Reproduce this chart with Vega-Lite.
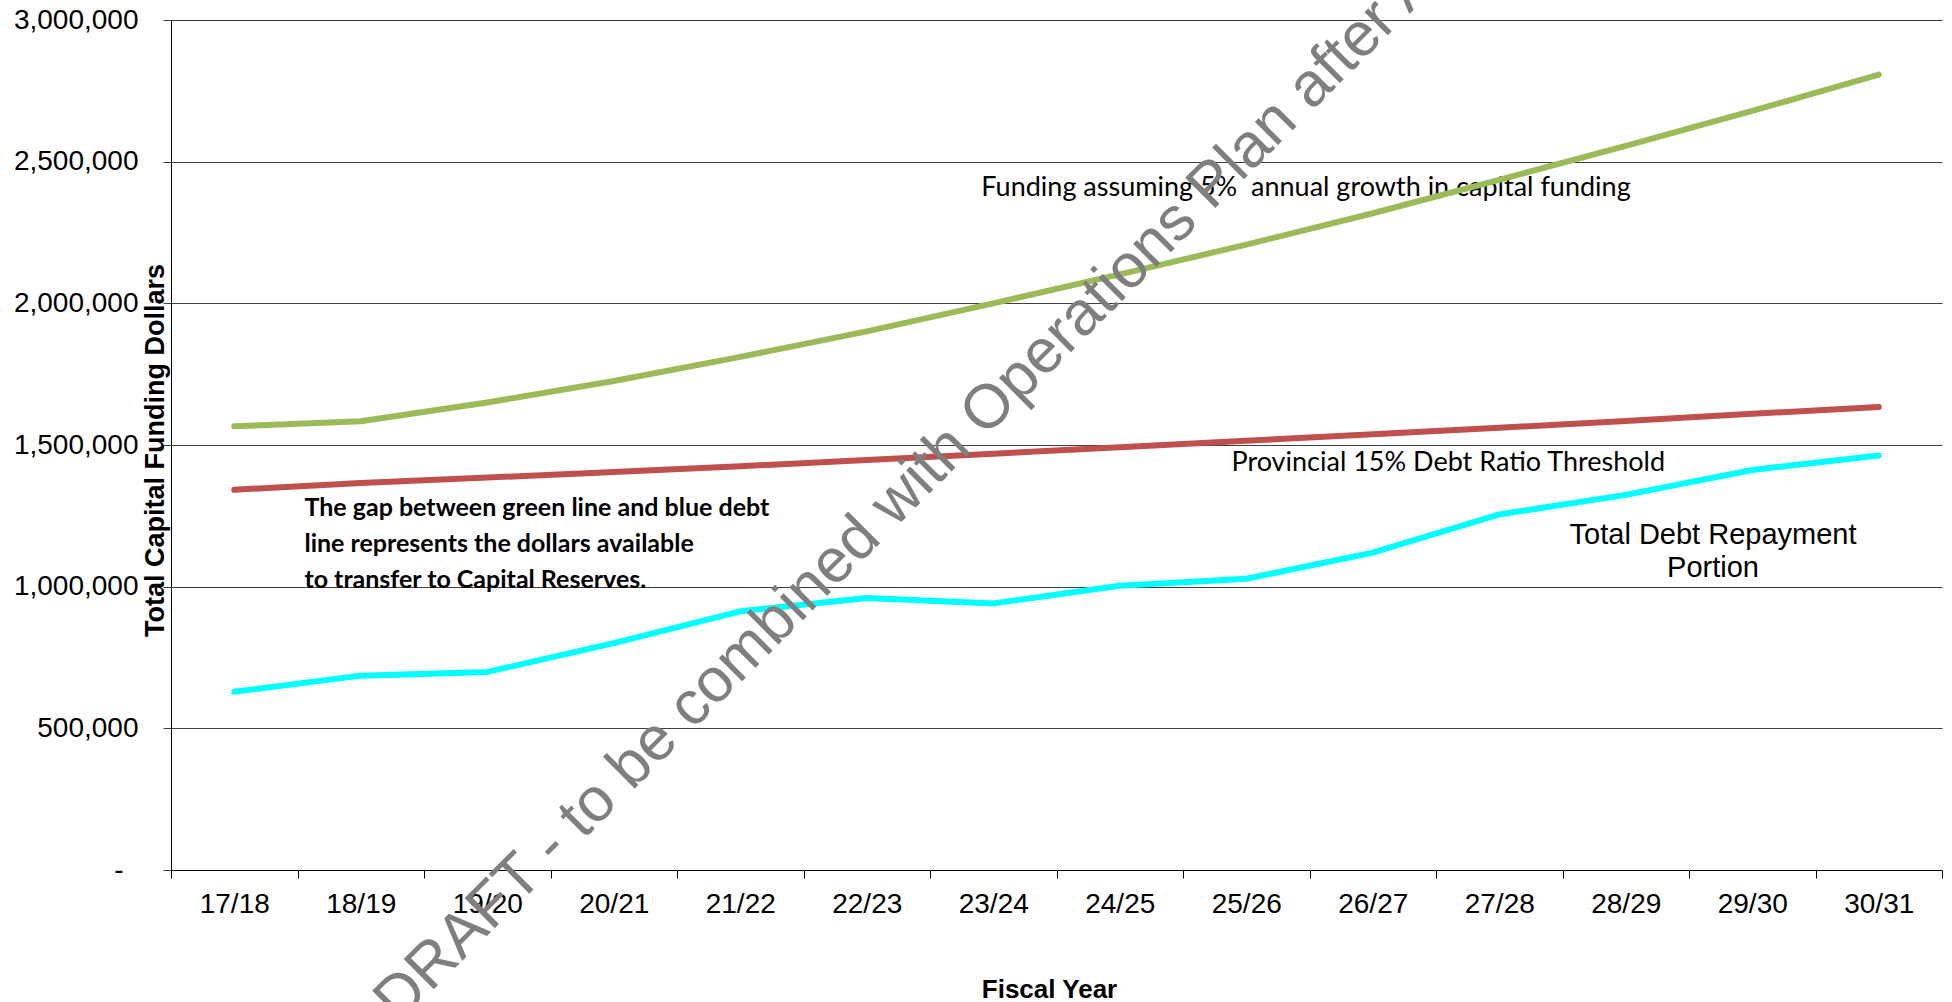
{
  "$schema": "https://vega.github.io/schema/vega-lite/v6.json",
  "autosize": {"type": "none"},
  "padding": {"left": 171, "top": 20, "right": 10, "bottom": 132},
  "width": 1771,
  "height": 850,
  "background": "white",
  "config": {
    "view": {"stroke": null},
    "font": "Liberation Sans",
    "axisX": {
      "tickBand": "extent",
      "grid": false,
      "domain": true,
      "domainColor": "#000000",
      "domainWidth": 1,
      "tickColor": "#000000",
      "tickSize": 8,
      "labelFont": "Liberation Sans",
      "labelFontSize": 28,
      "labelColor": "#000000",
      "labelPadding": 12,
      "labelAngle": 0,
      "titleFont": "Liberation Sans",
      "titleFontSize": 26,
      "titleFontWeight": "bold",
      "titleColor": "#000000",
      "titleY": 127,
      "titleX": 878,
      "titleBaseline": "alphabetic",
      "titleAlign": "center"
    },
    "axisY": {
      "grid": true,
      "gridColor": "#404040",
      "gridWidth": 1,
      "domain": true,
      "domainColor": "#000000",
      "domainWidth": 1,
      "tickColor": "#404040",
      "tickSize": 8,
      "labelFont": "Liberation Sans",
      "labelFontSize": 28,
      "labelColor": "#000000",
      "titleFont": "Liberation Sans",
      "titleFontSize": 27,
      "titleFontWeight": "bold",
      "titleColor": "#000000",
      "titleAngle": 270,
      "titleX": -8,
      "titleY": 430,
      "titleBaseline": "alphabetic",
      "titleAlign": "center"
    }
  },
  "datasets": {
    "series": [
      {"year": "17/18", "series": "Funding assuming 5% annual growth", "value": 1566000},
      {"year": "18/19", "series": "Funding assuming 5% annual growth", "value": 1584000},
      {"year": "19/20", "series": "Funding assuming 5% annual growth", "value": 1650000},
      {"year": "20/21", "series": "Funding assuming 5% annual growth", "value": 1726000},
      {"year": "21/22", "series": "Funding assuming 5% annual growth", "value": 1811000},
      {"year": "22/23", "series": "Funding assuming 5% annual growth", "value": 1901000},
      {"year": "23/24", "series": "Funding assuming 5% annual growth", "value": 2000000},
      {"year": "24/25", "series": "Funding assuming 5% annual growth", "value": 2102000},
      {"year": "25/26", "series": "Funding assuming 5% annual growth", "value": 2207000},
      {"year": "26/27", "series": "Funding assuming 5% annual growth", "value": 2318000},
      {"year": "27/28", "series": "Funding assuming 5% annual growth", "value": 2436000},
      {"year": "28/29", "series": "Funding assuming 5% annual growth", "value": 2556000},
      {"year": "29/30", "series": "Funding assuming 5% annual growth", "value": 2679000},
      {"year": "30/31", "series": "Funding assuming 5% annual growth", "value": 2807000},
      {"year": "17/18", "series": "Provincial 15% Debt Ratio Threshold", "value": 1342000},
      {"year": "18/19", "series": "Provincial 15% Debt Ratio Threshold", "value": 1366000},
      {"year": "19/20", "series": "Provincial 15% Debt Ratio Threshold", "value": 1385000},
      {"year": "20/21", "series": "Provincial 15% Debt Ratio Threshold", "value": 1405000},
      {"year": "21/22", "series": "Provincial 15% Debt Ratio Threshold", "value": 1425000},
      {"year": "22/23", "series": "Provincial 15% Debt Ratio Threshold", "value": 1447000},
      {"year": "23/24", "series": "Provincial 15% Debt Ratio Threshold", "value": 1469000},
      {"year": "24/25", "series": "Provincial 15% Debt Ratio Threshold", "value": 1492000},
      {"year": "25/26", "series": "Provincial 15% Debt Ratio Threshold", "value": 1515000},
      {"year": "26/27", "series": "Provincial 15% Debt Ratio Threshold", "value": 1538000},
      {"year": "27/28", "series": "Provincial 15% Debt Ratio Threshold", "value": 1561000},
      {"year": "28/29", "series": "Provincial 15% Debt Ratio Threshold", "value": 1585000},
      {"year": "29/30", "series": "Provincial 15% Debt Ratio Threshold", "value": 1610000},
      {"year": "30/31", "series": "Provincial 15% Debt Ratio Threshold", "value": 1634000},
      {"year": "17/18", "series": "Total Debt Repayment Portion", "value": 629000},
      {"year": "18/19", "series": "Total Debt Repayment Portion", "value": 686000},
      {"year": "19/20", "series": "Total Debt Repayment Portion", "value": 699000},
      {"year": "20/21", "series": "Total Debt Repayment Portion", "value": 801000},
      {"year": "21/22", "series": "Total Debt Repayment Portion", "value": 913000},
      {"year": "22/23", "series": "Total Debt Repayment Portion", "value": 960000},
      {"year": "23/24", "series": "Total Debt Repayment Portion", "value": 941000},
      {"year": "24/25", "series": "Total Debt Repayment Portion", "value": 1003000},
      {"year": "25/26", "series": "Total Debt Repayment Portion", "value": 1028000},
      {"year": "26/27", "series": "Total Debt Repayment Portion", "value": 1120000},
      {"year": "27/28", "series": "Total Debt Repayment Portion", "value": 1255000},
      {"year": "28/29", "series": "Total Debt Repayment Portion", "value": 1324000},
      {"year": "29/30", "series": "Total Debt Repayment Portion", "value": 1412000},
      {"year": "30/31", "series": "Total Debt Repayment Portion", "value": 1463000}
    ]
  },
  "layer": [
    {
      "data": {"values": [{}]},
      "mark": {"type": "text", "text": "Funding assuming 5%\u00a0 annual growth in capital funding", "font": "Lato", "fontSize": 27, "align": "left", "baseline": "middle", "color": "#000000"},
      "encoding": {
        "x": {"datum": "23/24", "bandPosition": 0.406},
        "y": {"datum": 2406000}
      }
    },
    {
      "data": {"values": [{}]},
      "mark": {"type": "text", "text": "Provincial 15% Debt Ratio Threshold", "font": "Lato", "fontSize": 27, "align": "left", "baseline": "middle", "color": "#000000"},
      "encoding": {
        "x": {"datum": "25/26", "bandPosition": 0.383},
        "y": {"datum": 1436000}
      }
    },
    {
      "data": {"values": [{}]},
      "mark": {"type": "text", "text": ["Total Debt Repayment", "Portion"], "font": "Liberation Sans", "fontSize": 29, "lineHeight": 33, "align": "center", "baseline": "middle", "color": "#000000"},
      "encoding": {
        "x": {"datum": "29/30", "bandPosition": 0.19},
        "y": {"datum": 1182000}
      }
    },
    {
      "data": {"values": [{}]},
      "mark": {"type": "text", "text": ["The gap between green line and blue debt", "line represents the dollars available", "to transfer to Capital Reserves."], "font": "Lato", "fontWeight": "bold", "fontSize": 25, "lineHeight": 36, "align": "left", "baseline": "middle", "color": "#000000"},
      "encoding": {
        "x": {"datum": "18/19", "bandPosition": 0.055},
        "y": {"datum": 1277000}
      }
    },
    {
      "data": {"name": "series"},
      "mark": {"type": "line", "strokeWidth": 6, "strokeCap": "round", "strokeJoin": "round"},
      "encoding": {
        "x": {
          "field": "year",
          "type": "nominal",
          "sort": null,
          "scale": {"type": "band", "paddingInner": 0, "paddingOuter": 0,
            "domain": ["17/18","18/19","19/20","20/21","21/22","22/23","23/24","24/25","25/26","26/27","27/28","28/29","29/30","30/31"]},
          "axis": {"title": "Fiscal Year"}
        },
        "y": {
          "field": "value",
          "type": "quantitative",
          "scale": {"domain": [0, 3000000], "nice": false, "zero": true},
          "axis": {
            "title": "Total Capital Funding Dollars",
            "values": [0, 500000, 1000000, 1500000, 2000000, 2500000, 3000000],
            "labelExpr": "datum.value == 0 ? '-' : format(datum.value, ',')",
            "labelPadding": {"condition": {"test": "datum.value == 0", "value": 40}, "value": 25}
          }
        },
        "color": {
          "field": "series",
          "type": "nominal",
          "scale": {
            "domain": ["Funding assuming 5% annual growth", "Provincial 15% Debt Ratio Threshold", "Total Debt Repayment Portion"],
            "range": ["#9BBB59", "#C0504D", "#00FFFF"]
          },
          "legend": null
        }
      }
    },
    {
      "data": {"values": [{}]},
      "mark": {"type": "text", "text": "DRAFT - to be combined with Operations Plan after Approval", "font": "Liberation Sans", "fontSize": 62, "angle": -45, "align": "left", "baseline": "alphabetic", "color": "#7F7F7F"},
      "encoding": {
        "x": {"datum": "18/19", "bandPosition": 0.8},
        "y": {"datum": -545000}
      }
    }
  ]
}
